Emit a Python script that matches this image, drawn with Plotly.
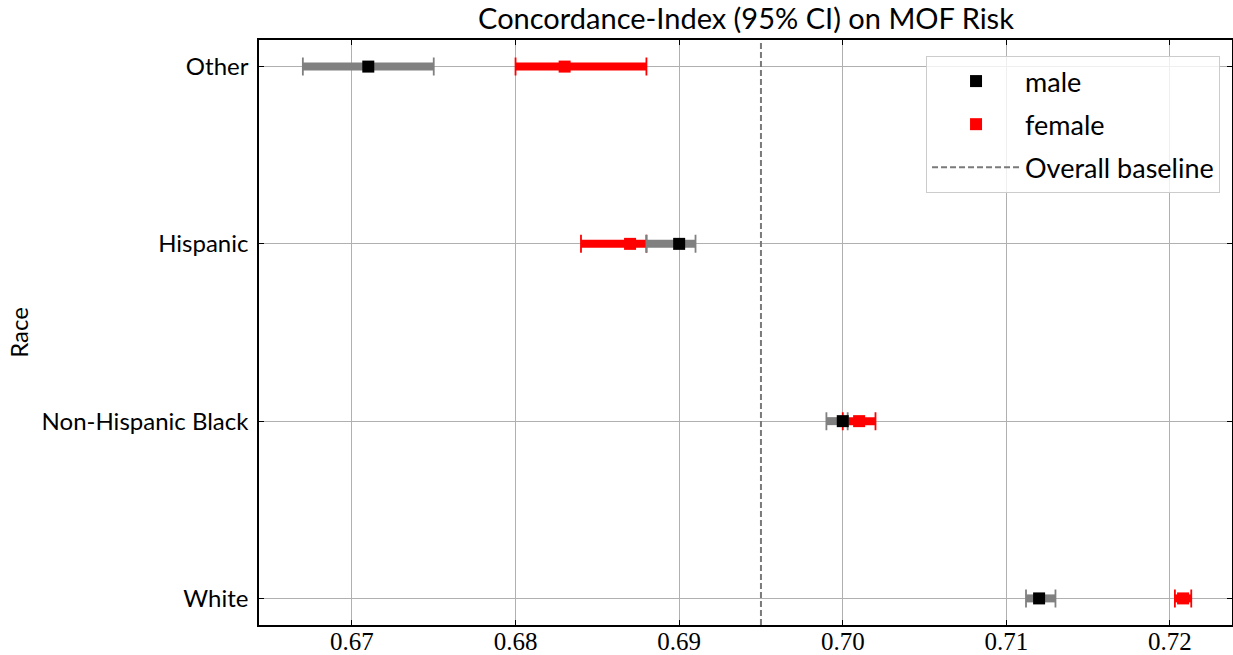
import plotly.graph_objects as go

races = ["White", "Non-Hispanic Black", "Hispanic", "Other"]

male_est = [0.712, 0.700, 0.690, 0.671]
male_lo = [0.7112, 0.699, 0.688, 0.667]
male_hi = [0.713, 0.7003, 0.691, 0.675]

female_est = [0.7208, 0.701, 0.687, 0.683]
female_lo = [0.7203, 0.700, 0.684, 0.680]
female_hi = [0.7213, 0.702, 0.688, 0.688]

baseline = 0.695
x_ticks = [0.67, 0.68, 0.69, 0.70, 0.71, 0.72]
x_tick_labels = ["0.67", "0.68", "0.69", "0.70", "0.71", "0.72"]

SANS = "Lato, 'DejaVu Sans', sans-serif"
SERIF = "'Liberation Serif', 'DejaVu Serif', serif"

fig = go.Figure()


def add_group(name, est, lo, hi, bar_color, mk_color, rank):
    xs, ys = [], []
    for r, a, b in zip(races, lo, hi):
        xs += [a, b, None]
        ys += [r, r, None]
    fig.add_trace(go.Scatter(
        x=xs, y=ys, mode="lines",
        line=dict(color=bar_color, width=8),
        showlegend=False, hoverinfo="skip"))
    fig.add_trace(go.Scatter(
        x=est, y=races, mode="markers", name=name, legendgroup=name,
        marker=dict(symbol="square", size=12, color=mk_color),
        error_x=dict(type="data", symmetric=False,
                     array=[h - e for h, e in zip(hi, est)],
                     arrayminus=[e - l for e, l in zip(est, lo)],
                     color=bar_color, thickness=1.8, width=9),
        legendrank=rank))


add_group("female", female_est, female_lo, female_hi, "#ff0000", "#ff0000", 2)
add_group("male", male_est, male_lo, male_hi, "#808080", "#000000", 1)

fig.add_trace(go.Scatter(
    x=[None], y=[None], mode="lines", name="Overall baseline", legendgroup="base",
    line=dict(color="#7a7a7a", width=2, dash="6px,3px"), legendrank=3))

fig.add_shape(type="line", x0=baseline, x1=baseline, y0=0, y1=1,
              xref="x", yref="paper",
              line=dict(color="#7a7a7a", width=2, dash="6px,3px"), layer="above")

fig.add_annotation(text="Race", xref="paper", yref="paper",
                   x=(18 - 259) / 974, y=0.5, xanchor="center", yanchor="middle",
                   textangle=-90, showarrow=False,
                   font=dict(family=SANS, size=24, color="black"))

fig.update_layout(
    width=1233, height=655,
    margin=dict(l=259, r=1, t=40, b=30, autoexpand=False),
    paper_bgcolor="white", plot_bgcolor="white",
    title=dict(text="Concordance-Index (95% CI) on MOF Risk",
               x=(746 / 1233), xref="container", xanchor="center",
               y=1 - 19 / 655, yref="container", yanchor="middle",
               font=dict(family=SANS, size=29, color="black")),
    legend=dict(x=0.9877, y=0.9726, xanchor="right", yanchor="top",
                bgcolor="rgba(255,255,255,0.8)", bordercolor="#cccccc",
                borderwidth=1, font=dict(family=SANS, size=27, color="black"),
                itemwidth=88, tracegroupgap=5, traceorder="grouped"),
    showlegend=True,
)

fig.update_xaxes(
    range=[0.66432, 0.72379], tickvals=x_ticks, ticktext=x_tick_labels,
    showgrid=True, gridcolor="#b0b0b0", gridwidth=1, zeroline=False,
    showline=True, linecolor="black", linewidth=1.5, mirror="ticks",
    ticks="inside", ticklen=5, tickcolor="black", automargin=False,
    ticklabelstandoff=-7,
    tickfont=dict(family=SERIF, size=25, color="black"))

fig.update_yaxes(
    type="category", categoryorder="array", categoryarray=races,
    range=[-0.15, 3.15],
    showgrid=True, gridcolor="#b0b0b0", gridwidth=1, zeroline=False,
    showline=True, linecolor="black", linewidth=1.5, mirror="ticks",
    ticks="inside", ticklen=5, tickcolor="black", automargin=False,
    ticklabelstandoff=4,
    tickfont=dict(family=SANS, size=24, color="black"))

fig.write_html("out.html", config={"displayModeBar": False},
               post_script="document.body.style.margin='0';document.body.style.overflow='hidden';")
